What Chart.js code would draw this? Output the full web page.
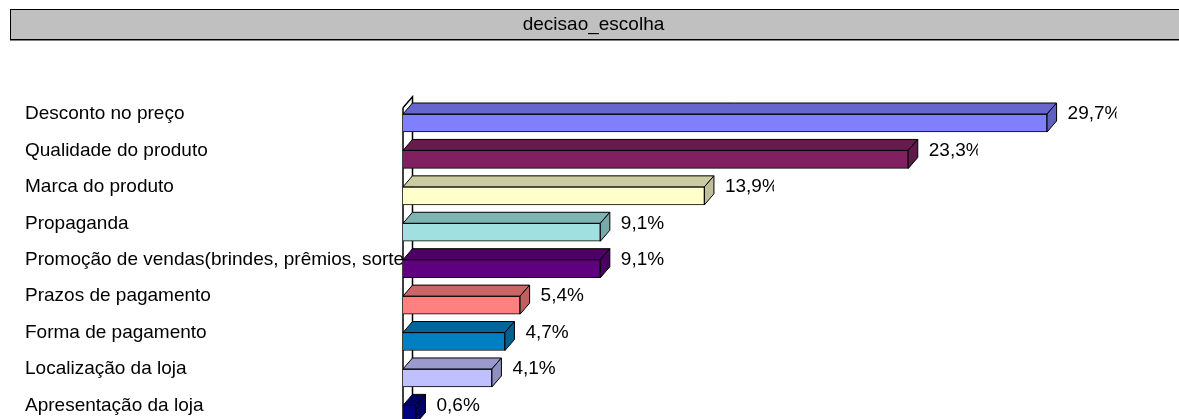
<!DOCTYPE html>
<html><head><meta charset="utf-8">
<script src="https://cdn.jsdelivr.net/npm/chart.js@4.4.0/dist/chart.umd.min.js"></script>
<style>
html,body{margin:0;padding:0;overflow:hidden;background:#fff;width:1179px;height:419px}
#wrap{position:relative;width:1179px;height:447px}
</style></head>
<body><div id="wrap"><canvas id="c"></canvas></div>
<script>
const titleText = 'decisao_escolha';
const categories = [
  'Desconto no preço',
  'Qualidade do produto',
  'Marca do produto',
  'Propaganda',
  'Promoção de vendas(brindes, prêmios, sorteios)',
  'Prazos de pagamento',
  'Forma de pagamento',
  'Localização da loja',
  'Apresentação da loja'
];
const values = [29.7, 23.3, 13.9, 9.1, 9.1, 5.4, 4.7, 4.1, 0.6];
const barColors = ['#8080FF','#802060','#FFFFCC','#A0E0E0','#600080','#FF8080','#0080C0','#C0C0FF','#000080'];

const DX = 9.5, DY = 11;
const FAMILY = '"Liberation Sans", Arial, sans-serif';
const FONT = '19px ' + FAMILY;

function shade(hex, f) {
  const n = parseInt(hex.slice(1), 16);
  const r = Math.round(((n >> 16) & 255) * f), g = Math.round(((n >> 8) & 255) * f), b = Math.round((n & 255) * f);
  return `rgb(${r},${g},${b})`;
}
function fmt(v) { return v.toFixed(1).replace('.', ',') + '%'; }

const threeD = {
  id: 'threeD',
  beforeDraw(chart) {
    const ctx = chart.ctx;
    ctx.save();
    ctx.fillStyle = '#C0C0C0';
    ctx.fillRect(10, 10, 1200, 29);
    ctx.strokeStyle = '#000';
    ctx.lineWidth = 1;
    ctx.strokeRect(10.5, 9.5, 1200, 30);
    ctx.fillStyle = '#000';
    ctx.fillRect(10, 39, 1200, 1.5);
    ctx.restore();
  },
  beforeDatasetsDraw(chart) {
    const ctx = chart.ctx, a = chart.chartArea;
    ctx.save();
    ctx.strokeStyle = '#000';
    ctx.lineWidth = 1.5;
    const x0 = a.left, top = a.top + 3;
    ctx.beginPath();
    ctx.moveTo(x0, top);
    ctx.lineTo(x0 + DX, top - DY);
    ctx.lineTo(x0 + DX, a.bottom + 20);
    ctx.moveTo(x0, top);
    ctx.lineTo(x0, a.bottom + 20);
    ctx.stroke();
    ctx.restore();
  },
  afterDatasetsDraw(chart) {
    const ctx = chart.ctx;
    const meta = chart.getDatasetMeta(0);
    ctx.save();
    ctx.strokeStyle = '#000';
    ctx.lineWidth = 1;
    meta.data.forEach((bar, i) => {
      const p = bar.getProps(['x', 'y', 'base', 'height'], true);
      const top = p.y - p.height / 2, bot = p.y + p.height / 2;
      const col = barColors[i];
      ctx.beginPath();
      ctx.moveTo(p.base, top);
      ctx.lineTo(p.base + DX, top - DY);
      ctx.lineTo(p.x + DX, top - DY);
      ctx.lineTo(p.x, top);
      ctx.closePath();
      ctx.fillStyle = shade(col, 0.8);
      ctx.fill();
      ctx.stroke();
      ctx.beginPath();
      ctx.moveTo(p.x, top);
      ctx.lineTo(p.x + DX, top - DY);
      ctx.lineTo(p.x + DX, bot - DY);
      ctx.lineTo(p.x, bot);
      ctx.closePath();
      ctx.fillStyle = shade(col, 0.75);
      ctx.fill();
      ctx.stroke();
      const lx = p.x + DX + 11;
      ctx.save();
      ctx.beginPath();
      ctx.rect(lx, p.y - 30, 49, 40);
      ctx.clip();
      ctx.fillStyle = '#000';
      ctx.font = FONT;
      ctx.textAlign = 'left';
      ctx.textBaseline = 'middle';
      ctx.fillText(fmt(values[i]), lx, p.y - 9);
      ctx.restore();
    });
    ctx.restore();
  }
};

new Chart(document.getElementById('c'), {
  type: 'bar',
  data: {
    labels: categories,
    datasets: [{
      data: values,
      backgroundColor: barColors,
      borderColor: '#000',
      borderWidth: 1,
      barThickness: 18
    }]
  },
  options: {
    indexAxis: 'y',
    responsive: true,
    maintainAspectRatio: false,
    animation: false,
    layout: { padding: { left: 25, right: 17, top: 0, bottom: 7.6 } },
    plugins: {
      legend: { display: false },
      tooltip: { enabled: false },
      title: {
        display: true,
        text: titleText,
        color: '#000',
        font: { family: FAMILY, size: 19, weight: 'normal' },
        padding: { top: 13.1, bottom: 68.9 }
      }
    },
    scales: {
      x: { display: false, min: 0, max: 35 },
      y: {
        offset: true,
        grid: { display: false },
        border: { display: false },
        ticks: {
          color: '#000',
          font: { family: FAMILY, size: 19 },
          crossAlign: 'far',
          labelOffset: -9,
          autoSkip: false
        },
        afterFit(scale) { scale.width = 378; }
      }
    }
  },
  plugins: [threeD]
});
</script>
</body></html>
